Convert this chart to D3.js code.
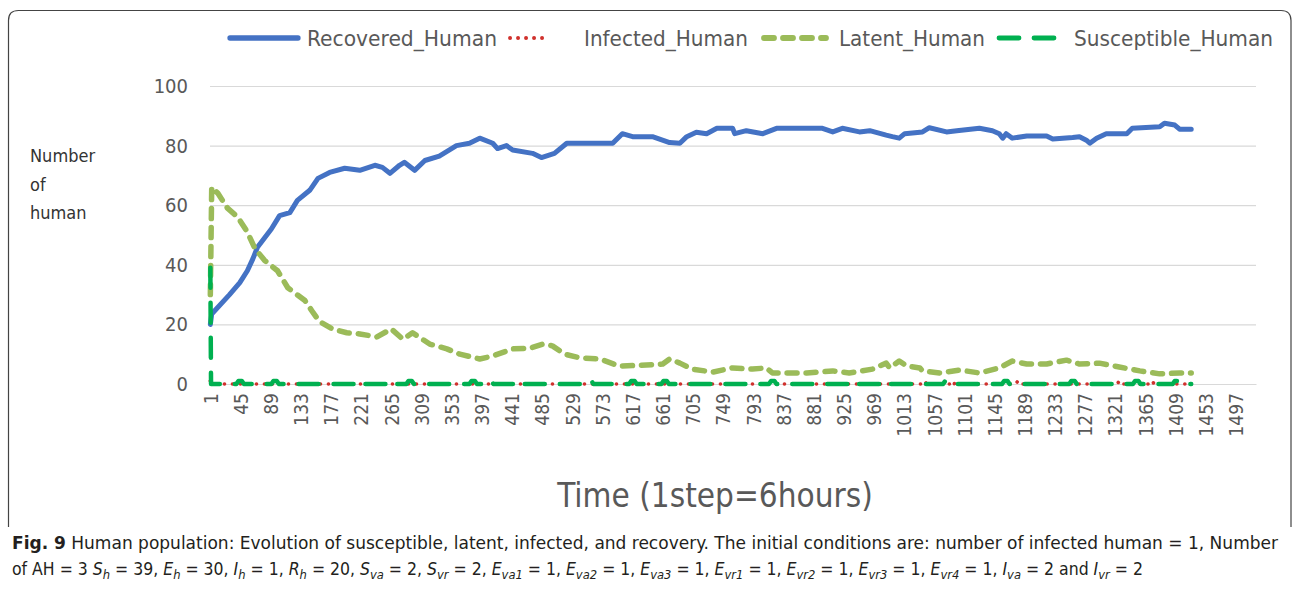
<!DOCTYPE html>
<html>
<head>
<meta charset="utf-8">
<script src="https://cdn.jsdelivr.net/npm/d3@7"></script>
<style>
  html, body { margin: 0; padding: 0; background: #fff; }
  svg { display: block; }
</style>
</head>
<body>
<svg id="chart" width="1293" height="590"></svg>
<script>
// ---------------- DATA ----------------
const seriesNames = ["Recovered_Human", "Infected_Human", "Latent_Human", "Susceptible_Human"];
const yTickValues = [0, 20, 40, 60, 80, 100];
const xTickValues = [1, 45, 89, 133, 177, 221, 265, 309, 353, 397, 441, 485, 529, 573, 617, 661, 705, 749, 793, 837, 881, 925, 969, 1013, 1057, 1101, 1145, 1189, 1233, 1277, 1321, 1365, 1409, 1453, 1497];
const categoryCount = 1526;

// [time step, number of humans]
const recovered = [
  [1, 20], [3, 23.5], [29, 30], [44, 34], [55, 38], [63, 42], [70, 46], [80, 49], [90, 52],
  [102, 56.5], [117, 57.5], [128, 61.6], [146, 65], [158, 69], [175, 71], [197, 72.4],
  [219, 71.7], [241, 73.4], [252, 72.7], [263, 70.7], [277, 73.4], [284, 74.4], [299, 71.7],
  [314, 75], [335, 76.5], [360, 80], [379, 80.8], [394, 82.5], [413, 80.8], [420, 79],
  [433, 80], [442, 78.5], [471, 77.4], [484, 76], [503, 77.4], [521, 80.8], [588, 80.8],
  [602, 84], [617, 83], [646, 83], [671, 81], [686, 80.8], [696, 83], [710, 84.5], [725, 84],
  [740, 85.8], [763, 85.8], [766, 84], [783, 85], [807, 84], [827, 85.8], [894, 85.8],
  [909, 84.6], [923, 85.8], [948, 84.6], [963, 85], [987, 83.5], [996, 83], [1006, 82.5],
  [1014, 84], [1040, 84.6], [1050, 86], [1075, 84.6], [1090, 85], [1123, 85.8], [1142, 85],
  [1152, 84], [1157, 82.5], [1162, 84], [1171, 82.5], [1192, 83.2], [1221, 83.2], [1230, 82.2],
  [1259, 82.7], [1269, 83], [1279, 81.8], [1284, 80.8], [1294, 82.5], [1308, 84], [1338, 84],
  [1346, 85.8], [1386, 86.3], [1393, 87.5], [1408, 86.9], [1415, 85.5], [1432, 85.5]
];

const infected = [
  [1, 1], [3, 0], [1040, 0], [1043, 1], [1046, 0], [1081, 0], [1084, 1], [1087, 0],
  [1176, 0], [1179, 1], [1182, 0], [1324, 0], [1327, 1], [1330, 0], [1372, 0], [1375, 1],
  [1378, 0], [1432, 0]
];

const latent = [
  [1, 30], [3, 66], [12, 64], [26, 59], [41, 56], [55, 51], [66, 45.5], [80, 41.5], [99, 38],
  [114, 32.3], [139, 28], [149, 24.6], [160, 21], [179, 18.5], [200, 17.2], [219, 16.8],
  [244, 15.8], [265, 18.5], [282, 15], [296, 17.2], [321, 13.4], [346, 11.8], [365, 10],
  [394, 8.4], [413, 9.4], [442, 11.8], [467, 12], [486, 13.4], [500, 12.8], [518, 10],
  [540, 8.8], [569, 8.4], [598, 6], [637, 6.4], [661, 6.7], [671, 8.4], [686, 7], [704, 5],
  [734, 4], [763, 5.4], [792, 5], [812, 5.4], [821, 3.7], [871, 3.7], [909, 4.4], [933, 3.7],
  [967, 5], [987, 7], [992, 5.4], [1006, 7.7], [1017, 6], [1036, 5.4], [1040, 4.4],
  [1065, 3.7], [1094, 4.7], [1123, 3.7], [1152, 5.4], [1171, 7.7], [1192, 6.7], [1221, 6.7],
  [1250, 8], [1269, 6.7], [1298, 7], [1327, 5.7], [1357, 4.4], [1386, 3.4], [1415, 3.7],
  [1432, 3.7]
];

const susceptible = [
  [1, 39], [2, 0], [39, 0], [42, 1], [47, 1], [50, 0], [90, 0], [93, 1], [98, 1], [101, 0],
  [214, 0], [217, 1], [222, 1], [225, 0], [258, 0], [261, 1], [266, 1], [269, 0],
  [287, 0], [290, 1], [295, 1], [298, 0], [379, 0], [382, 1], [387, 1], [390, 0],
  [403, 0], [406, 1], [411, 1], [414, 0], [447, 0], [450, 1], [455, 1], [458, 0],
  [549, 0], [552, 1], [557, 1], [560, 0], [612, 0], [615, 1], [620, 1], [623, 0],
  [659, 0], [662, 1], [667, 1], [670, 0], [816, 0], [819, 1], [824, 1], [827, 0],
  [931, 0], [934, 1], [939, 1], [942, 0], [977, 0], [980, 1], [985, 1], [988, 0],
  [1070, 0], [1073, 1], [1078, 1], [1081, 0], [1156, 0], [1159, 1], [1164, 1], [1167, 0],
  [1254, 0], [1257, 1], [1262, 1], [1265, 0], [1347, 0], [1350, 1], [1355, 1], [1358, 0],
  [1405, 0], [1408, 1], [1413, 1], [1416, 0], [1432, 0]
];

const seriesData = [recovered, infected, latent, susceptible];

// ---------------- STYLES ----------------
const styles = [
  { color: "#4472C4", width: 5, dash: null, cap: "round" },
  { color: "#D0312D", width: 3.6, dash: "0.1 7.9", cap: "round" },
  { color: "#9BBB59", width: 5.5, dash: "10 9", cap: "round" },
  { color: "#00B050", width: 4.5, dash: "20 15", cap: "round" }
];
const FONT = "'DejaVu Sans Condensed', 'DejaVu Sans', sans-serif";
const CAPFONT = "'Liberation Sans Narrow', 'DejaVu Sans Condensed', 'Arial Narrow', sans-serif";

const svg = d3.select("#chart");

// frame
svg.append("path")
  .attr("d", "M8.5,527 V20.5 Q8.5,10.5 18.5,10.5 H1281 Q1291,10.5 1291,20.5 V527")
  .attr("fill", "none").attr("stroke", "#444").attr("stroke-width", 1.2);

// scales
const x = d3.scaleLinear().domain([0.5, categoryCount + 0.5]).range([210, 1256]);
const y = d3.scaleLinear().domain([0, 100]).range([384, 86]);

// gridlines
svg.append("g").selectAll("line").data(yTickValues).join("line")
  .attr("x1", x.range()[0]).attr("x2", x.range()[1])
  .attr("y1", d => y(d) + 0.5).attr("y2", d => y(d) + 0.5)
  .attr("stroke", "#D9D9D9").attr("stroke-width", 1.2);

// y axis
const yAxis = svg.append("g").attr("transform", `translate(${x.range()[0]},0)`)
  .call(d3.axisLeft(y).tickValues(yTickValues).tickSize(0).tickPadding(22));
yAxis.select(".domain").remove();
yAxis.selectAll("text").attr("font-family", FONT).attr("font-size", 20).attr("fill", "#595959");

// x axis
const xAxis = svg.append("g").attr("transform", `translate(0,${y(0)})`)
  .call(d3.axisBottom(x).tickValues(xTickValues).tickSize(0).tickFormat(d3.format("d")));
xAxis.select(".domain").attr("stroke", "#D9D9D9").attr("stroke-width", 1.2);
xAxis.selectAll("text")
  .attr("font-family", FONT).attr("font-size", 19).attr("fill", "#595959")
  .attr("transform", "rotate(-90)")
  .attr("text-anchor", "end")
  .attr("x", -9).attr("y", 0).attr("dy", "0.36em");

// lines
const line = d3.line().x(d => x(d[0])).y(d => y(d[1])).curve(d3.curveLinear);
const plot = svg.append("g");
seriesData.forEach((data, i) => {
  const s = styles[i];
  plot.append("path").datum(data)
    .attr("d", line)
    .attr("fill", "none")
    .attr("stroke", s.color)
    .attr("stroke-width", s.width)
    .attr("stroke-linecap", s.cap)
    .attr("stroke-linejoin", "round")
    .attr("stroke-dasharray", s.dash);
});

// legend
const legendPos = [
  { x1: 230, x2: 298, tx: 307 },
  { x1: 510, x2: 550, tx: 584 },
  { x1: 764, x2: 826, tx: 839 },
  { x1: 999, x2: 1062, tx: 1074 }
];
const legendWidths = [190, 164, 146, 199];
const legend = svg.append("g");
seriesNames.forEach((name, i) => {
  const s = styles[i], p = legendPos[i];
  legend.append("line")
    .attr("x1", p.x1).attr("x2", p.x2).attr("y1", 38).attr("y2", 38)
    .attr("stroke", s.color).attr("stroke-width", s.width + 0.3)
    .attr("stroke-linecap", s.cap).attr("stroke-dasharray", s.dash);
  legend.append("text")
    .attr("x", p.tx).attr("y", 45.5)
    .attr("font-family", FONT).attr("font-size", 21.5).attr("fill", "#595959")
    .attr("textLength", legendWidths[i]).attr("lengthAdjust", "spacingAndGlyphs")
    .text(name);
});

// y title
["Number", "of", "human"].forEach((t, i) => {
  svg.append("text").attr("x", 30).attr("y", 162 + i * 28.5)
    .attr("font-family", FONT).attr("font-size", 18).attr("fill", "#333")
    .text(t);
});

// x title
svg.append("text").attr("x", 715).attr("y", 507)
  .attr("text-anchor", "middle")
  .attr("font-family", FONT).attr("font-size", 33).attr("fill", "#595959")
  .text("Time (1step=6hours)");

// caption
function caption(yPos, segments, length) {
  const t = svg.append("text").attr("x", 12).attr("y", yPos)
    .attr("font-family", CAPFONT).attr("font-size", 17).attr("fill", "#231F20")
    .attr("textLength", length).attr("lengthAdjust", "spacingAndGlyphs");
  let shifted = false;
  segments.forEach(([txt, st]) => {
    const ts = t.append("tspan").text(txt);
    if (st === "b") ts.attr("font-weight", "bold");
    if (st === "i") ts.attr("font-style", "italic");
    if (st === "s") {
      ts.attr("font-style", "italic").attr("font-size", 12.5);
      if (!shifted) { ts.attr("dy", 4); shifted = true; }
    } else if (shifted) {
      ts.attr("dy", -4); shifted = false;
    }
  });
}
caption(549, [
  ["Fig. 9", "b"],
  [" Human population: Evolution of susceptible, latent, infected, and recovery. The initial conditions are: number of infected human = 1, Number", "n"]
], 1266);

const vars = [
  ["S", "h", "39"], ["E", "h", "30"], ["I", "h", "1"], ["R", "h", "20"], ["S", "va", "2"], ["S", "vr", "2"],
  ["E", "va1", "1"], ["E", "va2", "1"], ["E", "va3", "1"], ["E", "vr1", "1"], ["E", "vr2", "1"],
  ["E", "vr3", "1"], ["E", "vr4", "1"], ["I", "va", "2"], ["I", "vr", "2"]
];
const seg2 = [["of AH = 3 ", "n"]];
vars.forEach((v, i) => {
  seg2.push([v[0], "i"]);
  seg2.push([v[1], "s"]);
  let sep = ", ";
  if (i === vars.length - 2) sep = " and ";
  if (i === vars.length - 1) sep = "";
  seg2.push([" = " + v[2] + sep, "n"]);
});
caption(575, seg2, 1131);
</script>
</body>
</html>
